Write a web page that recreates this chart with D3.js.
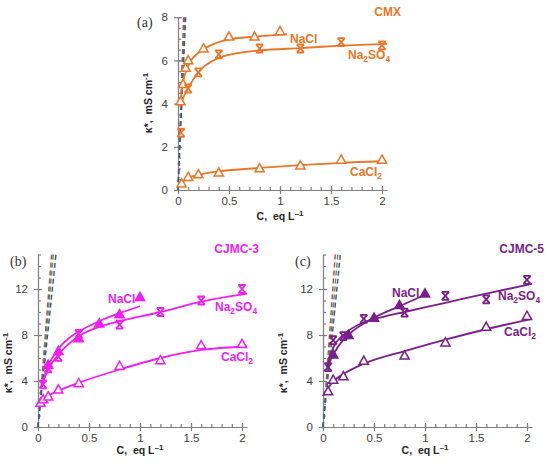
<!DOCTYPE html>
<html>
<head>
<meta charset="utf-8">
<script src="https://cdn.jsdelivr.net/npm/d3@7"></script>
<style>
  body { margin: 0; background: #fff; }
  svg { font-family: "Liberation Sans", Arial, sans-serif; }
  .tick text { fill: #404040; font-size: 11.5px; }
  .axis path, .axis line { stroke: #7f7f7f; stroke-width: 1.2; }
</style>
</head>
<body>
<svg id="chart" width="550" height="473"></svg>
<script>
// ***** Data *****
const xTickVals = [0, 0.5, 1, 1.5, 2];

// (a) CMX
const aNaClX = [0.025, 0.05, 0.075, 0.1, 0.25, 0.5, 0.75, 1.0];
const aNaClY = [4.1, 4.9, 5.65, 6.0, 6.55, 7.1, 7.1, 7.35];
const aNa2SO4X = [0.03, 0.1, 0.2, 0.4, 0.8, 1.2, 1.6, 2.0];
const aNa2SO4Y = [2.65, 4.7, 5.45, 6.28, 6.55, 6.55, 6.85, 6.7];
const aCaCl2X = [0.035, 0.1, 0.2, 0.4, 0.8, 1.2, 1.6, 2.0];
const aCaCl2Y = [0.3, 0.6, 0.72, 0.8, 1.0, 1.13, 1.4, 1.4];
const aNaClFitX = [0.02, 0.05, 0.1, 0.2, 0.3, 0.5, 0.75, 1.07];
const aNaClFitY = [4.0, 5.0, 5.75, 6.35, 6.65, 6.97, 7.1, 7.22];
const aNa2SO4FitX = [0.02, 0.05, 0.1, 0.2, 0.4, 0.6, 0.8, 1.2, 1.6, 2.05];
const aNa2SO4FitY = [3.85, 4.25, 4.72, 5.45, 6.12, 6.35, 6.46, 6.57, 6.68, 6.77];
const aCaCl2FitX = [0.02, 0.05, 0.1, 0.2, 0.4, 0.8, 1.2, 1.6, 2.0];
const aCaCl2FitY = [0.25, 0.4, 0.55, 0.7, 0.86, 1.02, 1.15, 1.26, 1.33];
const aDashTopX = [0.055, 0.065, 0.075];

// (b) CJMC-3
const bNaClX = [0.1, 0.2, 0.4, 0.6, 0.8, 1.0];
const bNaClY = [5.4, 6.6, 7.7, 9.0, 9.8, 11.3];
const bNa2SO4X = [0.05, 0.1, 0.2, 0.4, 0.8, 1.2, 1.6, 2.0];
const bNa2SO4Y = [3.7, 5.1, 6.1, 8.1, 8.9, 10.0, 11.0, 12.0];
const bCaCl2X = [0.025, 0.05, 0.1, 0.2, 0.4, 0.8, 1.2, 1.6, 2.0];
const bCaCl2Y = [2.1, 2.4, 2.65, 3.25, 3.8, 5.3, 5.8, 7.1, 7.2];
const bNaClFitX = [0.04, 0.1, 0.2, 0.3, 0.4, 0.6, 0.8, 1.0];
const bNaClFitY = [3.7, 5.3, 6.8, 7.7, 8.3, 9.2, 9.9, 10.5];
const bNa2SO4FitX = [0.03, 0.1, 0.2, 0.4, 0.6, 0.8, 1.2, 1.6, 2.05];
const bNa2SO4FitY = [3.5, 5.0, 6.3, 7.9, 8.7, 9.2, 10.0, 10.9, 11.6];
const bCaCl2FitX = [0.0, 0.05, 0.1, 0.2, 0.4, 0.8, 1.2, 1.6, 2.05];
const bCaCl2FitY = [1.9, 2.35, 2.7, 3.15, 3.85, 5.0, 6.0, 6.7, 7.0];
const bDashTopX = [0.134, 0.15, 0.176];

// (c) CJMC-5
const cNaClX = [0.1, 0.25, 0.5, 0.75, 1.0];
const cNaClY = [6.3, 8.0, 9.5, 10.6, 11.6];
const cNa2SO4X = [0.05, 0.1, 0.2, 0.4, 0.8, 1.2, 1.6, 2.0];
const cNa2SO4Y = [5.2, 7.55, 7.9, 9.4, 9.95, 11.4, 11.1, 12.8];
const cCaCl2X = [0.05, 0.1, 0.2, 0.4, 0.8, 1.2, 1.6, 2.0];
const cCaCl2Y = [3.1, 4.1, 4.4, 5.75, 6.2, 7.35, 8.7, 9.65];
const cNaClFitX = [0.04, 0.1, 0.2, 0.3, 0.5, 0.75, 1.0];
const cNaClFitY = [5.2, 6.3, 7.6, 8.4, 9.5, 10.5, 11.5];
const cNa2SO4FitX = [0.04, 0.1, 0.2, 0.4, 0.6, 0.8, 1.2, 1.6, 2.05];
const cNa2SO4FitY = [5.2, 6.9, 8.0, 9.1, 9.6, 10.0, 10.8, 11.6, 12.45];
const cCaCl2FitX = [0.0, 0.05, 0.1, 0.2, 0.4, 0.8, 1.2, 1.6, 2.05];
const cCaCl2FitY = [2.7, 3.4, 3.95, 4.6, 5.5, 6.6, 7.6, 8.5, 9.4];
const cDashTopX = [0.12, 0.145, 0.17];

const dashColors = ["#d63b3b", "#3f9a5a", "#3a4f9a"];

const svg = d3.select("#chart");

const zip = (xs, ys) => xs.map((x, i) => ({ x: x, y: ys[i] }));

// ***** Marker shapes *****
const triPath = "M0,-4.8L4.6,3.4H-4.6Z";
const starPath = "M-3.6,-4L3.6,4M3.6,-4L-3.6,4M-3.6,-4H3.6M-3.6,4H3.6";

function drawPanel(p) {
  const g = svg.append("g");
  const x = d3.scaleLinear().domain([0, 2.05]).range([p.x0, p.x0 + 2.05 * 102]);
  const y = d3.scaleLinear().domain([0, p.yMax]).range([p.y0, p.y0 - p.yMax * p.yUnit]);

  // ***** Axes *****
  const xAx = g.append("g").attr("class", "axis").attr("transform", "translate(0," + p.y0 + ")");
  xAx.call(d3.axisBottom(x).tickValues(xTickVals).tickSize(4).tickPadding(3).tickSizeOuter(0)
    .tickFormat(d3.format("")));
  const xUp = g.append("g").attr("class", "axis").attr("transform", "translate(0," + p.y0 + ")");
  xUp.call(d3.axisTop(x).tickValues(xTickVals).tickSize(4).tickSizeOuter(0).tickFormat(""));
  xUp.select(".domain").remove();
  const xMin = g.append("g").attr("class", "axis").attr("transform", "translate(0," + p.y0 + ")");
  xMin.call(d3.axisTop(x).tickValues(d3.range(0.1, 2.01, 0.1)).tickSize(3).tickSizeOuter(0).tickFormat(""));
  xMin.select(".domain").remove();

  const yAx = g.append("g").attr("class", "axis").attr("transform", "translate(" + p.x0 + ",0)");
  yAx.call(d3.axisLeft(y).tickValues(p.yTicks).tickSize(4).tickPadding(6).tickSizeOuter(0));
  const yIn = g.append("g").attr("class", "axis").attr("transform", "translate(" + p.x0 + ",0)");
  yIn.call(d3.axisRight(y).tickValues(p.yTicks).tickSize(4).tickSizeOuter(0).tickFormat(""));
  yIn.select(".domain").remove();
  const yMin = g.append("g").attr("class", "axis").attr("transform", "translate(" + p.x0 + ",0)");
  yMin.call(d3.axisRight(y).tickValues(d3.range(p.yMinor, p.yMax + 0.01, p.yMinor)).tickSize(3)
    .tickSizeOuter(0).tickFormat(""));
  yMin.select(".domain").remove();

  // axis titles
  g.append("text")
    .attr("x", x(1) ).attr("y", p.xTitleY)
    .attr("text-anchor", "middle")
    .style("font-size", "10.5px").style("font-weight", "bold").style("fill", "#262626")
    .html('C,&#160; eq L<tspan dy="-4" font-size="8px">–1</tspan>');
  g.append("text")
    .attr("transform", "translate(" + p.yTitleX + "," + p.yTitleC + ") rotate(-90)")
    .attr("text-anchor", "middle")
    .style("font-size", "10.5px").style("font-weight", "bold").style("fill", "#262626")
    .html('κ*,&#160; mS cm<tspan dy="-4" font-size="8px">-1</tspan>');

  // ***** Dashed solution lines *****
  p.dashTop.forEach(function(tx, i) {
    g.append("line")
      .attr("x1", x(0)).attr("y1", y(0))
      .attr("x2", x(tx)).attr("y2", y(p.yMax))
      .attr("stroke", dashColors[i]).attr("stroke-width", 1.4)
      .attr("stroke-dasharray", "5,3");
  });

  // ***** Fitted curves *****
  const line = d3.line().x(d => x(d.x)).y(d => y(d.y)).curve(d3.curveMonotoneX);
  p.fits.forEach(function(f) {
    g.append("path").datum(f)
      .attr("d", line)
      .attr("fill", "none").attr("stroke", p.color).attr("stroke-width", 1.8);
  });

  // ***** Markers *****
  p.series.forEach(function(s) {
    g.selectAll(null).data(s.pts).enter().append("path")
      .attr("transform", d => "translate(" + x(d.x) + "," + y(d.y) + ")")
      .attr("d", s.shape === "star" ? starPath : triPath)
      .attr("fill", s.shape === "star" ? "none" : (s.filled ? p.color : "#fff"))
      .attr("stroke", p.color).attr("stroke-width", s.shape === "star" ? 1.8 : 1.5);
  });

  // ***** Labels *****
  g.append("text").attr("x", p.tagX).attr("y", p.tagY)
    .style("font-family", "'Liberation Serif', serif").style("font-size", "14px").style("fill", "#333")
    .text(p.tag);
  g.append("text").attr("x", p.titleX).attr("y", p.titleY)
    .attr("text-anchor", "end")
    .style("font-size", "12px").style("font-weight", "bold").style("fill", p.color)
    .text(p.title);
  p.labels.forEach(function(l) {
    const t = g.append("text").attr("x", l.x).attr("y", l.y)
      .style("font-size", "12px").style("font-weight", "bold").style("fill", p.color);
    l.parts.forEach(function(part) {
      t.append("tspan")
        .attr("dy", part.sub ? 3 : (part.back ? -3 : 0))
        .style("font-size", part.sub ? "8.5px" : "12px")
        .text(part.t);
    });
  });
}

const na2so4Parts = [{ t: "Na" }, { t: "2", sub: true }, { t: "SO", back: true }, { t: "4", sub: true }];
const cacl2Parts = [{ t: "CaCl" }, { t: "2", sub: true }];

drawPanel({
  x0: 178, y0: 190, yMax: 8, yUnit: 21.6, yTicks: [0, 2, 4, 6, 8], yMinor: 0.5,
  color: "#eb7526",
  dashTop: aDashTopX,
  fits: [zip(aNaClFitX, aNaClFitY), zip(aNa2SO4FitX, aNa2SO4FitY), zip(aCaCl2FitX, aCaCl2FitY)],
  series: [
    { pts: zip(aNaClX, aNaClY), shape: "tri" },
    { pts: zip(aNa2SO4X, aNa2SO4Y), shape: "star" },
    { pts: zip(aCaCl2X, aCaCl2Y), shape: "tri" }
  ],
  xTitleY: 220, yTitleX: 152, yTitleC: 103,
  tag: "(a)", tagX: 137, tagY: 27,
  title: "CMX", titleX: 401, titleY: 16,
  labels: [
    { x: 290, y: 43, parts: [{ t: "NaCl" }] },
    { x: 348, y: 59, parts: na2so4Parts },
    { x: 350, y: 176, parts: cacl2Parts }
  ]
});

drawPanel({
  x0: 38, y0: 427, yMax: 15, yUnit: 11.5, yTicks: [0, 4, 8, 12], yMinor: 1,
  color: "#f01ef0",
  dashTop: bDashTopX,
  fits: [zip(bNaClFitX, bNaClFitY), zip(bNa2SO4FitX, bNa2SO4FitY), zip(bCaCl2FitX, bCaCl2FitY)],
  series: [
    { pts: zip(bNaClX, bNaClY), shape: "tri", filled: true },
    { pts: zip(bNa2SO4X, bNa2SO4Y), shape: "star" },
    { pts: zip(bCaCl2X, bCaCl2Y), shape: "tri" }
  ],
  xTitleY: 454, yTitleX: 12, yTitleC: 363,
  tag: "(b)", tagX: 10, tagY: 266,
  title: "CJMC-3", titleX: 259, titleY: 253,
  labels: [
    { x: 108, y: 303, parts: [{ t: "NaCl" }] },
    { x: 215, y: 311, parts: na2so4Parts },
    { x: 221, y: 361, parts: cacl2Parts }
  ]
});

drawPanel({
  x0: 323, y0: 427, yMax: 15, yUnit: 11.5, yTicks: [0, 4, 8, 12], yMinor: 1,
  color: "#7a1f8a",
  dashTop: cDashTopX,
  fits: [zip(cNaClFitX, cNaClFitY), zip(cNa2SO4FitX, cNa2SO4FitY), zip(cCaCl2FitX, cCaCl2FitY)],
  series: [
    { pts: zip(cNaClX, cNaClY), shape: "tri", filled: true },
    { pts: zip(cNa2SO4X, cNa2SO4Y), shape: "star" },
    { pts: zip(cCaCl2X, cCaCl2Y), shape: "tri" }
  ],
  xTitleY: 454, yTitleX: 287, yTitleC: 363,
  tag: "(c)", tagX: 295, tagY: 266,
  title: "CJMC-5", titleX: 544, titleY: 253,
  labels: [
    { x: 392, y: 297, parts: [{ t: "NaCl" }] },
    { x: 498, y: 300, parts: na2so4Parts },
    { x: 504, y: 336, parts: cacl2Parts }
  ]
});
</script>
</body>
</html>
